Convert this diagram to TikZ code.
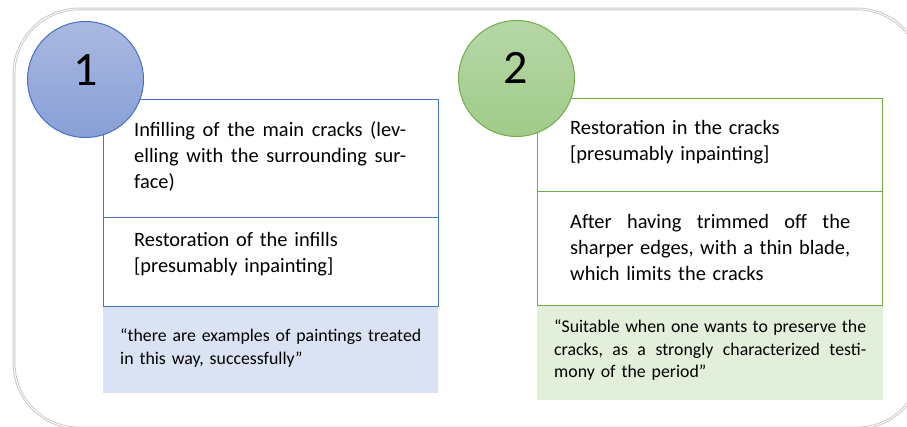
\documentclass[tikz,border=0pt]{standalone}
\usepackage{fontspec}
\setmainfont{Carlito}
\tolerance=10000
\hbadness=10000
\hfuzz=20pt
\newcommand{\gp}{\hskip 0.15em plus 1fil\relax}
\newcommand{\jline}[2]{\leavevmode\hbox to #1{#2}}
\definecolor{framegray}{HTML}{C9C9C9}
\definecolor{blueline}{HTML}{4472C4}
\definecolor{greenline}{HTML}{70AD47}
\definecolor{bluetop}{HTML}{AAB9E0}
\definecolor{bluebot}{HTML}{889FD7}
\definecolor{greentop}{HTML}{B6D7A7}
\definecolor{greenbot}{HTML}{A0CB89}
\definecolor{bluequote}{HTML}{DAE3F3}
\definecolor{greenquote}{HTML}{E2EFDA}
\tikzset{
  boxa/.style={draw=blueline, line width=1pt, fill=white, anchor=north west, inner sep=0pt},
  boxb/.style={draw=greenline, line width=1pt, fill=white, anchor=north west, inner sep=0pt},
  quotebox/.style={draw=none, anchor=north west, inner sep=0pt},
  numcircle/.style={circle, line width=1pt, minimum size=116pt, inner sep=0pt},
  numtext/.style={anchor=base, inner sep=0pt, font=\fontsize{48}{52}\selectfont},
  maintext/.style={anchor=north west, inner sep=0pt, align=left, font={\fontsize{20.4}{26}\selectfont}},
  quotetext/.style={anchor=north west, inner sep=0pt, align=left, font={\fontsize{17.8}{22.7}\selectfont\spaceskip=0.16em plus 1em minus 0.03em\xspaceskip=0.18em plus 1em minus 0.03em }},
}
\begin{document}
\begin{tikzpicture}[x=1pt,y=-1pt]
\useasboundingbox (0,0) rectangle (907,426);
\clip (0,0) rectangle (907,426);
% outer frame (double grey line)
\draw[framegray, line width=2.8pt, rounded corners=65pt] (14,9) rectangle (922,428);
\draw[white, line width=0.9pt, rounded corners=65pt] (14,9) rectangle (922,428);

% ---- panel 1 ----
\node[quotebox, fill=bluequote, minimum width=335pt, minimum height=87pt] (q1) at (103,306) {};
\node[boxa, minimum width=335pt, minimum height=118pt] (a1) at (103,99) {};
\node[boxa, minimum width=335pt, minimum height=89pt] (a2) at (103,217) {};
\node[numcircle, draw=blueline, top color=bluetop, bottom color=bluebot] (c1) at (85.5,79.5) {};
\node[numtext] (n1) at (86,85.5) {1};
\node[maintext, text width=272pt] (t1) at (134,118.3)
  {\strut\jline{272pt}{Infilling\gp of\gp the\gp main\gp cracks\gp (lev-}\\\strut\jline{272pt}{elling\gp with\gp the\gp surrounding\gp sur-}\\\strut face)};
\node[maintext, text width=272pt] (t2) at (134,228)
  {\strut Restoration of the infills\\{}[presumably inpainting]};
\node[quotetext, text width=301pt] (qt1) at (120,325.8)
  {\strut\jline{301pt}{“there\gp are\gp examples\gp of\gp paintings\gp treated}\\\strut in this way, successfully”};

% ---- panel 2 ----
\node[quotebox, fill=greenquote, minimum width=346pt, minimum height=95pt] (q2) at (537,305) {};
\node[boxb, minimum width=345pt, minimum height=93pt] (b1) at (537,98) {};
\node[boxb, minimum width=345pt, minimum height=114pt] (b2) at (537,191) {};
\node[numcircle, draw=greenline, top color=greentop, bottom color=greenbot] (c2) at (516.5,78.5) {};
\node[numtext] (n2) at (516,83) {2};
\node[maintext, text width=280pt] (t3) at (570,116)
  {\strut Restoration in the cracks\\{}[presumably inpainting]};
\node[maintext, text width=280pt] (t4) at (570,209.7)
  {\strut\jline{280pt}{After\gp having\gp trimmed\gp off\gp the}\\\strut\jline{280pt}{sharper\gp edges,\gp with\gp a\gp thin\gp blade,}\\\strut which limits the cracks};
\node[quotetext, text width=312pt] (qt2) at (554,316.4)
  {\strut\jline{312pt}{“Suitable\gp when\gp one\gp wants\gp to\gp preserve\gp the}\\\strut\jline{312pt}{cracks,\gp as\gp a\gp strongly\gp characterized\gp testi-}\\\strut mony of the period”};
\end{tikzpicture}
\end{document}
